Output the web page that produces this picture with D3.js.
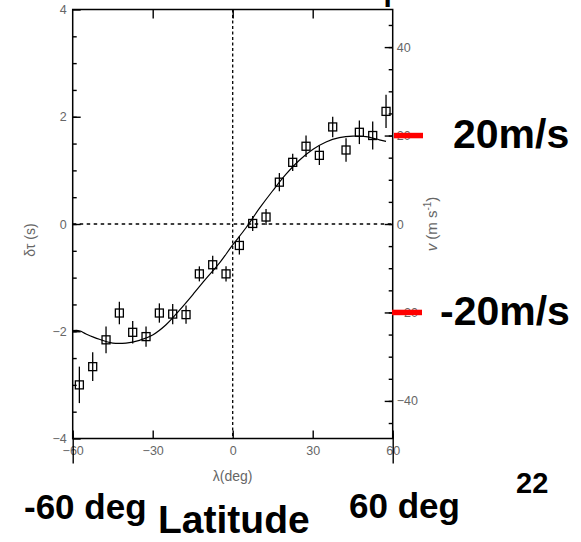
<!DOCTYPE html>
<html>
<head>
<meta charset="utf-8">
<script src="https://cdn.jsdelivr.net/npm/d3@7"></script>
<style>
  body { margin: 0; background: #fff; }
  svg { display: block; font-family: "Liberation Sans", Arial, sans-serif; }
  .tick text { fill: #666; font-size: 12.5px; font-family: "Liberation Sans", Arial, sans-serif; }
  .tick line, .domain { stroke: #000; stroke-width: 1.4; }
  .big { font-weight: bold; fill: #000; }
</style>
</head>
<body>
<svg id="chart" width="581" height="542"></svg>
<script>
// latitude of each bin (deg)
const lats = [-57.5, -52.5, -47.5, -42.5, -37.5, -32.5, -27.5, -22.5, -17.5, -12.5, -7.5, -2.5,
  2.5, 7.5, 12.5, 17.5, 22.5, 27.5, 32.5, 37.5, 42.5, 47.5, 52.5, 57.5];
// travel time difference (s)
const delays = [-3.00, -2.66, -2.16, -1.66, -2.02, -2.10, -1.66, -1.68, -1.69, -0.93, -0.76, -0.93,
  -0.40, 0.01, 0.13, 0.78, 1.15, 1.45, 1.28, 1.81, 1.38, 1.71, 1.65, 2.10];
// half error bars (s)
const errs = [0.34, 0.27, 0.25, 0.21, 0.21, 0.19, 0.18, 0.19, 0.17, 0.14, 0.17, 0.14,
  0.17, 0.14, 0.15, 0.17, 0.16, 0.20, 0.18, 0.19, 0.22, 0.22, 0.26, 0.31];

// fitted curve
const fitLat = [-60, -57.5, -55, -50, -45, -40, -35, -30, -25, -20, -15, -10, -5, 0,
  5, 10, 15, 20, 25, 30, 35, 40, 45, 50, 55, 57.5];
const fitVal = [-1.99, -1.99, -2.05, -2.15, -2.22, -2.22, -2.17, -2.07, -1.88, -1.61, -1.32, -1.02, -0.73, -0.39,
  -0.07, 0.29, 0.62, 0.93, 1.19, 1.39, 1.53, 1.61, 1.64, 1.63, 1.57, 1.54];

const xTicks = [-60, -30, 0, 30, 60];
const yTicks = [-4, -2, 0, 2, 4];
const vTicks = [-40, -20, 0, 20, 40];
const marked = [20, -20];

const svg = d3.select('#chart');

const box = { left: 72.7, right: 392.7, top: 9.5, bottom: 438.5 };

const x = d3.scaleLinear().domain([-60, 60]).range([box.left, box.right]);
const y = d3.scaleLinear().domain([-4, 4]).range([box.bottom, box.top]);
const yV = d3.scaleLinear().domain([-48.5, 48.5]).range([box.bottom, box.top]);

// title, almost entirely above the top edge
svg.append('text')
  .attr('class', 'big')
  .attr('x', 45).attr('y', -1.2)
  .attr('font-size', 36)
  .attr('textLength', 400)
  .attr('lengthAdjust', 'spacingAndGlyphs')
  .text('Meridional flow with respect');

// frame
svg.append('rect')
  .attr('x', box.left).attr('y', box.top)
  .attr('width', box.right - box.left).attr('height', box.bottom - box.top)
  .attr('fill', 'none').attr('stroke', '#000').attr('stroke-width', 1.5);

// zero lines
svg.append('line')
  .attr('x1', x(0)).attr('x2', x(0)).attr('y1', box.top).attr('y2', box.bottom)
  .attr('stroke', '#000').attr('stroke-width', 1.3).attr('stroke-dasharray', '3,2.5');
svg.append('line')
  .attr('x1', box.left).attr('x2', box.right).attr('y1', y(0)).attr('y2', y(0))
  .attr('stroke', '#000').attr('stroke-width', 1.3).attr('stroke-dasharray', '3.5,3.5');

// left axis (ticks pointing in)
svg.append('g').attr('transform', `translate(${box.left},0)`)
  .call(d3.axisLeft(y).tickValues(d3.range(-3.5, 4, 0.5)).tickSize(-4).tickFormat(''))
  .call(g => g.select('.domain').remove());
svg.append('g').attr('transform', `translate(${box.left},0)`)
  .call(d3.axisLeft(y).tickValues(yTicks).tickSize(-8).tickPadding(6).tickFormat(d3.format('d')))
  .call(g => g.select('.domain').remove());

// right axis (velocity)
svg.append('g').attr('transform', `translate(${box.right},0)`)
  .call(d3.axisRight(yV).tickValues(d3.range(-45, 50, 5)).tickSize(-4).tickFormat(''))
  .call(g => g.select('.domain').remove());
svg.append('g').attr('transform', `translate(${box.right},0)`)
  .call(d3.axisRight(yV).tickValues(vTicks).tickSize(-8).tickPadding(4).tickFormat(d3.format('d')))
  .call(g => g.select('.domain').remove());

// top and bottom axes
svg.append('g').attr('transform', `translate(0,${box.top})`)
  .call(d3.axisTop(x).tickValues([-30, 0, 30]).tickSize(-9).tickFormat(''))
  .call(g => g.select('.domain').remove());
svg.append('g').attr('transform', `translate(0,${box.bottom})`)
  .call(d3.axisBottom(x).tickValues(xTicks).tickSize(-8).tickPadding(8).tickFormat(d3.format('d')))
  .call(g => g.select('.domain').remove());
// long end ticks crossing the bottom labels
svg.append('g').attr('transform', `translate(0,${box.bottom - 5})`)
  .call(d3.axisBottom(x).tickValues([-60, 60]).tickSize(30).tickFormat(''))
  .call(g => g.select('.domain').remove());

// axis titles
svg.append('text')
  .attr('x', x(0)).attr('y', 481)
  .attr('text-anchor', 'middle')
  .attr('fill', '#666').attr('font-size', 14)
  .text('λ(deg)');

svg.append('text')
  .attr('transform', `translate(35,${y(-0.3)}) rotate(-90)`)
  .attr('text-anchor', 'middle')
  .attr('fill', '#666').attr('font-size', 14)
  .text('δτ (s)');

const vLab = svg.append('text')
  .attr('transform', `translate(437,${yV(0)}) rotate(-90)`)
  .attr('text-anchor', 'middle')
  .attr('fill', '#666').attr('font-size', 15);
vLab.append('tspan').attr('font-style', 'italic').text('v');
vLab.append('tspan').text(' (m s');
vLab.append('tspan').attr('font-size', 10).attr('dy', -6).text('-1');
vLab.append('tspan').attr('dy', 6).text(')');

// fitted curve
const fit = fitLat.map((d, i) => [d, fitVal[i]]);
svg.append('path')
  .datum(fit)
  .attr('fill', 'none')
  .attr('stroke', '#000')
  .attr('stroke-width', 1.2)
  .attr('d', d3.line().x(d => x(d[0])).y(d => y(d[1])).curve(d3.curveCatmullRom));

// data points with error bars
const pts = lats.map((d, i) => ({ lat: d, val: delays[i], err: errs[i] }));
const pg = svg.append('g').selectAll('g').data(pts).enter().append('g');
pg.append('line')
  .attr('x1', d => x(d.lat)).attr('x2', d => x(d.lat))
  .attr('y1', d => y(d.val - d.err)).attr('y2', d => y(d.val + d.err))
  .attr('stroke', '#000').attr('stroke-width', 1.3);
pg.append('rect')
  .attr('x', d => x(d.lat) - 4).attr('y', d => y(d.val) - 4)
  .attr('width', 8).attr('height', 8)
  .attr('fill', 'none').attr('stroke', '#000').attr('stroke-width', 1.3);

// red marks at +/-20 m/s
svg.selectAll('.mark').data(marked).enter().append('line')
  .attr('class', 'mark')
  .attr('x1', d => d > 0 ? 394 : 392).attr('x2', d => d > 0 ? 423 : 422)
  .attr('y1', d => yV(d)).attr('y2', d => yV(d))
  .attr('stroke', '#ff0000').attr('stroke-width', 5.5);

// annotations
svg.append('text').attr('class', 'big').attr('font-size', 41)
  .attr('x', 453).attr('y', 148).text('20m/s');
svg.append('text').attr('class', 'big').attr('font-size', 41)
  .attr('x', 440).attr('y', 325).text('-20m/s');
svg.append('text').attr('class', 'big').attr('font-size', 35)
  .attr('x', 24).attr('y', 519).text('-60 deg');
svg.append('text').attr('class', 'big').attr('font-size', 39)
  .attr('x', 158).attr('y', 533).text('Latitude');
svg.append('text').attr('class', 'big').attr('font-size', 35)
  .attr('x', 349).attr('y', 518).text('60 deg');
svg.append('text').attr('class', 'big').attr('font-size', 29)
  .attr('x', 516).attr('y', 493).text('22');
</script>
</body>
</html>
